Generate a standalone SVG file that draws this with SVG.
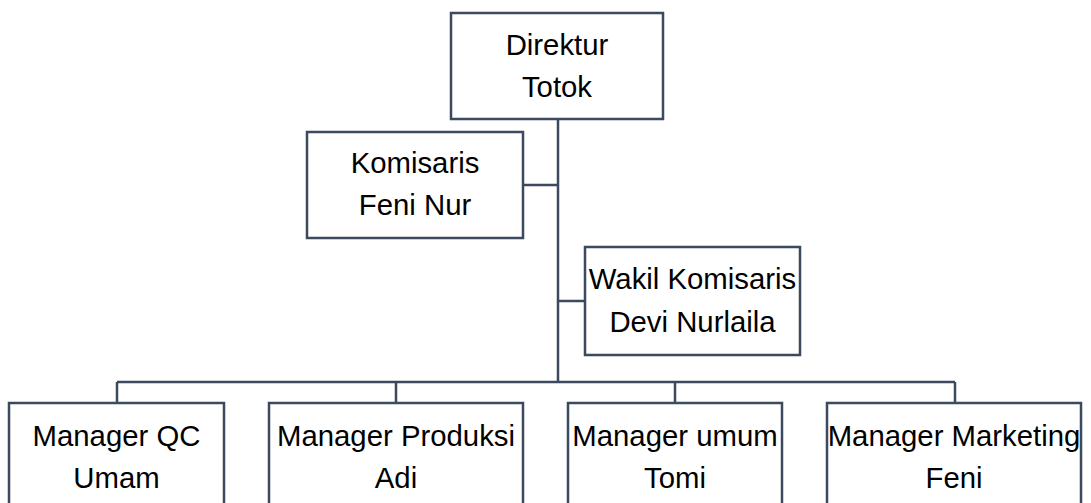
<svg xmlns="http://www.w3.org/2000/svg" width="1091" height="503" viewBox="0 0 1091 503">
<style>
.box{fill:#ffffff;stroke:#3b4a5e;stroke-width:2.5}
.ln{fill:none;stroke:#3b4a5e;stroke-width:2.5}
text{font-family:"Liberation Sans",Arial,sans-serif;font-size:29.33px;fill:#000;text-anchor:middle}
</style>
<rect width="1091" height="503" fill="#ffffff"/>
<g id="connectors">
<path class="ln" d="M558 119V382M523 185H558M558 301H585M117 382H955M117 382V403M396 382V403M675 382V403M955 382V403"/>
</g>
<g id="direktur">
<rect class="box" x="451" y="13" width="212" height="106"/>
<text x="557" y="55">Direktur</text>
<text x="557" y="97">Totok</text>
</g>
<g id="komisaris">
<rect class="box" x="307" y="132" width="216" height="106"/>
<text x="415" y="173">Komisaris</text>
<text x="415" y="215">Feni Nur</text>
</g>
<g id="wakil">
<rect class="box" x="585" y="247" width="215" height="108"/>
<text x="692.5" y="289">Wakil Komisaris</text>
<text x="692.5" y="332">Devi Nurlaila</text>
</g>
<g id="qc">
<rect class="box" x="9" y="403" width="215" height="120"/>
<text x="116.5" y="446">Manager QC</text>
<text x="116.5" y="488">Umam</text>
</g>
<g id="produksi">
<rect class="box" x="269" y="403" width="254" height="120"/>
<text x="396" y="446">Manager Produksi</text>
<text x="396" y="488">Adi</text>
</g>
<g id="umum">
<rect class="box" x="568" y="403" width="214" height="120"/>
<text x="675" y="446">Manager umum</text>
<text x="675" y="488">Tomi</text>
</g>
<g id="marketing">
<rect class="box" x="827" y="403" width="254" height="120"/>
<text x="954" y="446">Manager Marketing</text>
<text x="954" y="488">Feni</text>
</g>
</svg>
